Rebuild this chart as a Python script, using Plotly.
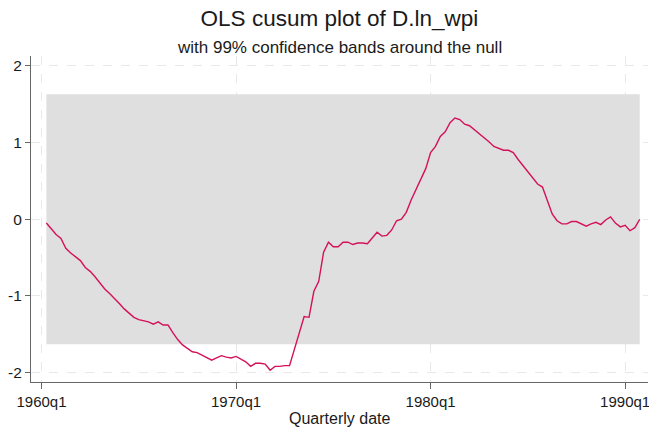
import plotly.graph_objects as go

# ---- data ----
# quarter index 0 = 1960q1; cusum observed from 1960q2 (1) to 1990q4 (123)
start_quarter = 1
cusum = [
    -0.05, -0.13, -0.20, -0.25, -0.38, -0.44, -0.49, -0.54, -0.63, -0.68,
    -0.75, -0.83, -0.91, -0.97, -1.03, -1.10, -1.17, -1.22, -1.28, -1.31,
    -1.32, -1.34, -1.37, -1.34, -1.38, -1.38, -1.48, -1.57, -1.64, -1.68,
    -1.73, -1.74, -1.77, -1.80, -1.84, -1.81, -1.78, -1.80, -1.81, -1.79,
    -1.82, -1.86, -1.92, -1.88, -1.88, -1.89, -1.97, -1.92, -1.92, -1.91,
    -1.91, -1.70, -1.48, -1.27, -1.28, -0.94, -0.81, -0.43, -0.30, -0.36,
    -0.36, -0.30, -0.30, -0.33, -0.31, -0.31, -0.32, -0.24, -0.17, -0.22,
    -0.21, -0.14, -0.02, 0.00, 0.09, 0.25, 0.38, 0.51, 0.66, 0.87,
    0.95, 1.08, 1.14, 1.26, 1.32, 1.30, 1.24, 1.22, 1.17, 1.12,
    1.06, 1.01, 0.95, 0.93, 0.90, 0.90, 0.87, 0.78, 0.70, 0.62,
    0.54, 0.46, 0.42, 0.24, 0.07, -0.02, -0.06, -0.06, -0.03, -0.03,
    -0.06, -0.09, -0.06, -0.04, -0.07, -0.01, 0.03, -0.05, -0.10, -0.08,
    -0.15, -0.11, 0.00,
]
band_limit = 1.63
x_tick_quarters = [0, 40, 80, 120]
x_tick_labels = ["1960q1", "1970q1", "1980q1", "1990q1"]
y_tick_values = [-2, -1, 0, 1, 2]
y_tick_labels = ["-2", "-1", "0", "1", "2"]

title_text = "OLS cusum plot of D.ln_wpi"
subtitle_text = "with 99% confidence bands around the null"
x_title = "Quarterly date"

# ---- figure ----
quarters = [start_quarter + i for i in range(len(cusum))]
upper = [band_limit] * len(quarters)
lower = [-band_limit] * len(quarters)

font_family = "Liberation Sans, Arial, sans-serif"
axis_color = "#666666"
grid_color = "#e8e8e8"
fig = go.Figure()
fig.add_trace(go.Scatter(x=quarters, y=lower, mode="lines",
                         line=dict(width=0, color="#dfdfdf"),
                         hoverinfo="skip", showlegend=False))
fig.add_trace(go.Scatter(x=quarters, y=upper, mode="lines",
                         line=dict(width=0, color="#dfdfdf"),
                         fill="tonexty", fillcolor="#dfdfdf",
                         hoverinfo="skip", showlegend=False))
fig.add_trace(go.Scatter(x=quarters, y=cusum, mode="lines",
                         line=dict(color="#d41159", width=1.4),
                         showlegend=False))

fig.update_layout(
    width=649, height=431,
    margin=dict(l=31, r=1, t=56, b=49, autoexpand=False),
    paper_bgcolor="white", plot_bgcolor="white",
    font=dict(family=font_family, size=15, color="#1a1a1a"),
    title=dict(text=title_text, x=0.523, xanchor="center",
               y=1 - 18 / 431, yanchor="middle", yref="container",
               font=dict(size=22.5, color="#1a1a1a"), automargin=False),
    annotations=[
        dict(text=subtitle_text, x=0.5, xref="paper", xanchor="center",
             y=1 + 8 / 326, yref="paper", yanchor="middle",
             showarrow=False, font=dict(size=17, color="#1a1a1a")),
        dict(text=x_title, x=0.5, xref="paper", xanchor="center",
             y=-(418 - 382) / 326, yref="paper", yanchor="middle",
             showarrow=False, font=dict(size=16, color="#1a1a1a")),
    ],
    xaxis=dict(range=[-2.16, 124.7], tickvals=x_tick_quarters,
               ticktext=x_tick_labels, showgrid=True, gridcolor=grid_color,
               griddash="dash", gridwidth=1, zeroline=False,
               showline=True, linecolor=axis_color, linewidth=1.2,
               ticks="outside", ticklen=6, tickcolor=axis_color,
               tickfont=dict(size=15), automargin=False,
               ticklabeloverflow="allow"),
    yaxis=dict(range=[-2.124, 2.13], tickvals=y_tick_values,
               ticktext=y_tick_labels, showgrid=True, gridcolor=grid_color,
               griddash="dash", gridwidth=1, zeroline=False,
               showline=True, linecolor=axis_color, linewidth=1.2,
               ticks="outside", ticklen=5, tickcolor=axis_color,
               tickfont=dict(size=15.5), automargin=False),
)

fig.write_html("out.html", config={"displayModeBar": False},
               post_script="document.body.style.margin='0';")
